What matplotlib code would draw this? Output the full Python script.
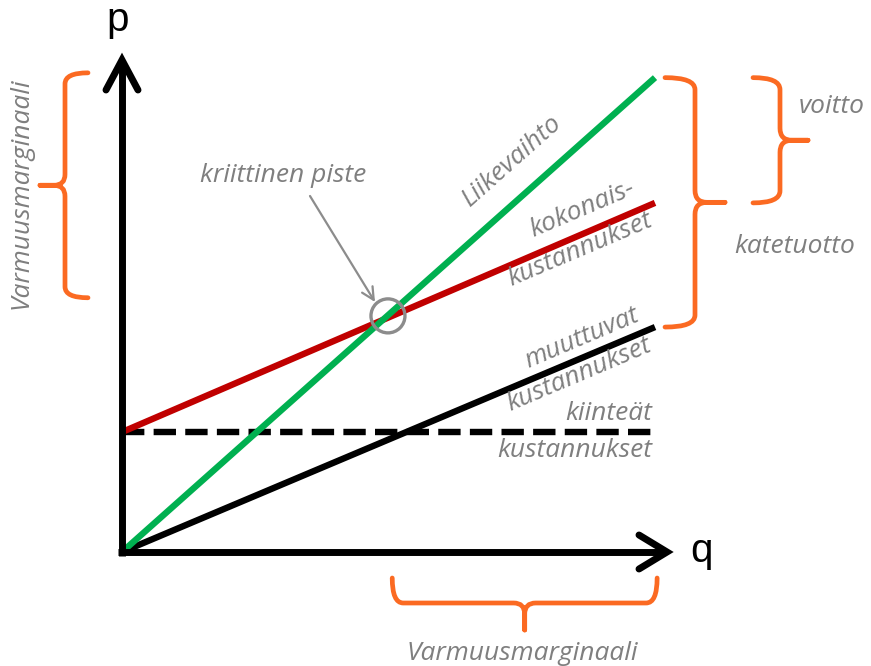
import numpy as np
import matplotlib
matplotlib.use("Agg")
import matplotlib.pyplot as plt
from matplotlib.path import Path
from matplotlib.patches import PathPatch, Circle

# ---------------- data (q = quantity, p = money) ----------------
q_range = [0, 10]
revenue = [0, 8.9]            # Liikevaihto
total_costs = [2.25, 6.55]    # kokonaiskustannukset
variable_costs = [0, 4.22]    # muuttuvat kustannukset
fixed_costs = [2.25, 2.25]    # kiinteät kustannukset
break_even = (4.99, 4.43)     # kriittinen piste
margin_p = [4.77, 8.99]       # varmuusmarginaali (p-akseli)
margin_q = [5.07, 10.04]      # varmuusmarginaali (q-akseli)

# ---------------- layout helpers ----------------
PX = 53.3          # pixels per unit
X0, Y0 = 122, 552  # origin in pixels
W, H = 871, 666


def P(x, y):
    return ((x - X0) / PX, (Y0 - y) / PX)


def u(px):
    return px / PX


GRAY = '#7f7f7f'
ORANGE = '#fb6a22'
GREEN = '#00b050'
RED = '#c00000'
FONT = 'Open Sans'

fig = plt.figure(figsize=(W / 100, H / 100), dpi=100)
ax = fig.add_axes([0, 0, 1, 1])
ax.set_xlim(-X0 / PX, (W - X0) / PX)
ax.set_ylim(-(H - Y0) / PX, Y0 / PX)
ax.axis('off')

# ---------------- curves ----------------
ax.plot(q_range, fixed_costs, color='black', lw=4.6, dashes=(3.5, 1.45),
        solid_capstyle='butt', dash_capstyle='butt', zorder=3)
ax.plot(q_range, variable_costs, color='black', lw=4.6, solid_capstyle='butt', zorder=3)
ax.plot(q_range, total_costs, color=RED, lw=4.6, solid_capstyle='butt', zorder=3)
ax.plot(q_range, revenue, color=GREEN, lw=4.6, solid_capstyle='butt', zorder=4)

# ---------------- axes with arrows ----------------
ytip = u(Y0 - 60)
xtip = u(667 - X0)
ax.plot([0, 0], [-u(4), ytip - 0.05], color='black', lw=5, solid_capstyle='butt', zorder=5)
ax.plot([-u(4), xtip - 0.05], [0, 0], color='black', lw=5, solid_capstyle='butt', zorder=5)
ax.plot([-u(16), 0, u(16)], [ytip - u(30), ytip, ytip - u(30)], color='black', lw=5,
        solid_capstyle='round', solid_joinstyle='miter', zorder=5)
ax.plot([xtip - u(28), xtip, xtip - u(28)], [u(17), 0, -u(17)], color='black', lw=5,
        solid_capstyle='round', solid_joinstyle='miter', zorder=5)
ax.text(*P(118, 31), 'p', fontsize=29, family='Liberation Sans', ha='center', va='baseline',
        color='black')
ax.text(*P(701, 562), 'q', fontsize=29, family='Liberation Sans', ha='center', va='baseline',
        color='black')


# ---------------- braces ----------------
def brace(a, b, normal, w, tip, r):
    a = np.array(a, float)
    b = np.array(b, float)
    n = np.array(normal, float)
    L = np.linalg.norm(b - a)
    t = (b - a) / L
    m = L / 2

    def pt(s, d):
        return a + t * s + n * d

    verts = [pt(0, 0), pt(0, w), pt(r, w),
             pt(m - r, w),
             pt(m, w), pt(m, w + r),
             pt(m, w + tip),
             pt(m, w + r),
             pt(m, w), pt(m + r, w),
             pt(L - r, w),
             pt(L, w), pt(L, 0)]
    codes = [Path.MOVETO, Path.CURVE3, Path.CURVE3,
             Path.LINETO,
             Path.CURVE3, Path.CURVE3,
             Path.LINETO,
             Path.LINETO,
             Path.CURVE3, Path.CURVE3,
             Path.LINETO,
             Path.CURVE3, Path.CURVE3]
    patch = PathPatch(Path(verts, codes), fill=False, ec=ORANGE, lw=3.4,
                      capstyle='round', joinstyle='round', zorder=2)
    ax.add_patch(patch)


# left (p axis)
xl = u(88 - X0)
brace((xl, margin_p[1]), (xl, margin_p[0]), (-1, 0), u(23), u(25), u(11))
# right: katetuotto (revenue - variable costs)
xr = u(665 - X0)
brace((xr, revenue[1]), (xr, variable_costs[1]), (1, 0), u(30), u(30), u(12))
# right: voitto (revenue - total costs)
xs = u(753 - X0)
brace((xs, revenue[1]), (xs, total_costs[1]), (1, 0), u(27), u(28), u(12))
# bottom (q axis)
yb = u(Y0 - 578)
brace((margin_q[0], yb), (margin_q[1], yb), (0, -1), u(25), u(27), u(11))

# ---------------- break-even marker ----------------
ax.add_patch(Circle(break_even, u(17), fill=False, ec='#8c8c8c', lw=2.4, zorder=6))
ax.annotate('', xy=P(375, 302), xytext=P(310, 196),
            arrowprops=dict(arrowstyle='->', color='#8c8c8c', lw=1.6, mutation_scale=22,
                            shrinkA=0, shrinkB=0), zorder=6)

# ---------------- labels ----------------
tk = dict(family=FONT, style='italic', color=GRAY, fontsize=19,
          ha='center', va='baseline', rotation_mode='anchor', zorder=7)
ax.text(*P(283, 182), 'kriittinen piste', **tk)
ax.text(*P(516, 166), 'Liikevaihto', rotation=41.6, **tk)
ax.text(*P(585, 215), 'kokonais-', rotation=23, **tk)
ax.text(*P(583, 256), 'kustannukset', rotation=23, **tk)
ax.text(*P(584, 344), 'muuttuvat', rotation=23, **tk)
ax.text(*P(582, 381), 'kustannukset', rotation=23, **tk)
tr = dict(tk)
tr['ha'] = 'right'
ax.text(*P(652, 420), 'kiinteät', **tr)
ax.text(*P(652, 457), 'kustannukset', **tr)
ax.text(*P(832, 113), 'voitto', **tk)
ax.text(*P(795, 253), 'katetuotto', **tk)
ax.text(*P(522, 660), 'Varmuusmarginaali', **tk)
ax.text(*P(28, 193), 'Varmuusmarginaali', rotation=90, **tk)

fig.savefig('out.png', dpi=100)
